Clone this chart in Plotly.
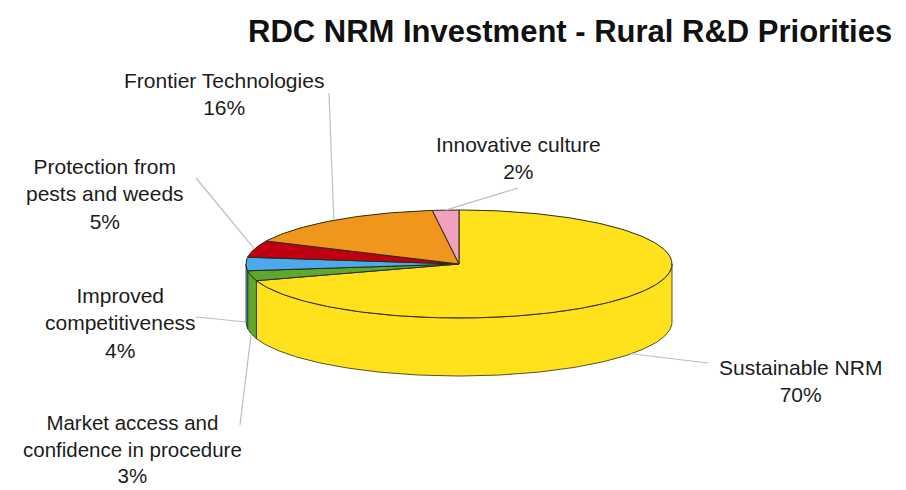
import numpy as np
import plotly.graph_objects as go

# ---------------- data ----------------
categories = ["Sustainable NRM",
              "Market access and<br>confidence in procedure",
              "Improved<br>competitiveness",
              "Protection from<br>pests and weeds",
              "Frontier Technologies",
              "Innovative culture"]
values = [70, 3, 4, 5, 16, 2]
colors = ["#FFE21C", "#5FA82F", "#4CA9EE", "#C00012", "#F0961C", "#EFA1BE"]
title_text = "RDC NRM Investment - Rural R&D Priorities"

# ---------------- layout / style ----------------
W, H = 906, 490
cx, cy, rx, ry, depth = 459, 264, 213, 54, 58
label_pos = [(800, 381), (132, 449), (120, 323), (105, 194), (224, 94), (518, 158)]
label_size = [21, 20.5, 21, 21, 21, 21]
leader_start = [(708, 363), (240, 425), (196, 317), (196, 178), (329, 93), (518, 188)]
edge = "#2a2a12"
leader_col = "#BEBEBE"
font_family = "Liberation Sans, Arial, sans-serif"

total = float(sum(values))
fig = go.Figure()


def arc(a_from, a_to, yoff=0.0, n=None):
    if n is None:
        n = max(3, int(abs(a_to - a_from) / 1.0) + 2)
    a = np.radians(np.linspace(a_from, a_to, n))
    return cx + rx * np.cos(a), cy - ry * np.sin(a) + yoff


angles = []
cum = 0.0
for v in values:
    a0 = 90 - 360 * cum / total
    a1 = a0 - 360 * v / total
    angles.append((a0, a1))
    cum += v

# side walls (front half visible: angle between -180 and 0 in this range)
for (a0, a1), col in zip(angles, colors):
    lo, hi = max(a1, -180), min(a0, 0)
    if hi > lo:
        xt, yt = arc(hi, lo)
        xb, yb = arc(lo, hi, depth)
        xs = np.concatenate([xt, xb, xt[:1]])
        ys = np.concatenate([yt, yb, yt[:1]])
        fig.add_trace(go.Scatter(x=xs, y=ys, mode="lines", fill="toself",
                                 fillcolor=col, line=dict(color=edge, width=0.8),
                                 hoverinfo="skip"))

# top faces
for (a0, a1), col in zip(angles, colors):
    xa, ya = arc(a0, a1)
    xs = np.concatenate([[cx], xa, [cx]])
    ys = np.concatenate([[cy], ya, [cy]])
    fig.add_trace(go.Scatter(x=xs, y=ys, mode="lines", fill="toself",
                             fillcolor=col, line=dict(color=edge, width=1),
                             hoverinfo="skip"))

# leader lines and labels
for (a0, a1), name, v, (lx, ly), (sx, sy), fs in zip(angles, categories, values,
                                                      label_pos, leader_start, label_size):
    m = np.radians((a0 + a1) / 2)
    ex = cx + rx * np.cos(m)
    ey = cy - ry * np.sin(m) + (depth if np.sin(m) < 0 else 0)
    fig.add_trace(go.Scatter(x=[sx, ex], y=[sy, ey], mode="lines",
                             line=dict(color=leader_col, width=1.2),
                             hoverinfo="skip"))
    pct = int(round(100 * v / total))
    fig.add_annotation(x=lx, y=ly, xref="x", yref="y",
                       text=f"{name}<br>{pct}%", showarrow=False,
                       align="center", xanchor="center", yanchor="middle",
                       font=dict(family=font_family, size=fs, color="#1c1c1c"))

fig.add_annotation(x=570, y=31, xref="x", yref="y", text=f"<b>{title_text}</b>",
                   showarrow=False, xanchor="center", yanchor="middle",
                   font=dict(family=font_family, size=31, color="#111111"))

fig.update_layout(
    width=W, height=H,
    margin=dict(l=0, r=0, t=0, b=0),
    showlegend=False,
    paper_bgcolor="white", plot_bgcolor="white",
    xaxis=dict(range=[0, W], visible=False, fixedrange=True),
    yaxis=dict(range=[H, 0], visible=False, fixedrange=True),
)

fig.write_html("out.html")
